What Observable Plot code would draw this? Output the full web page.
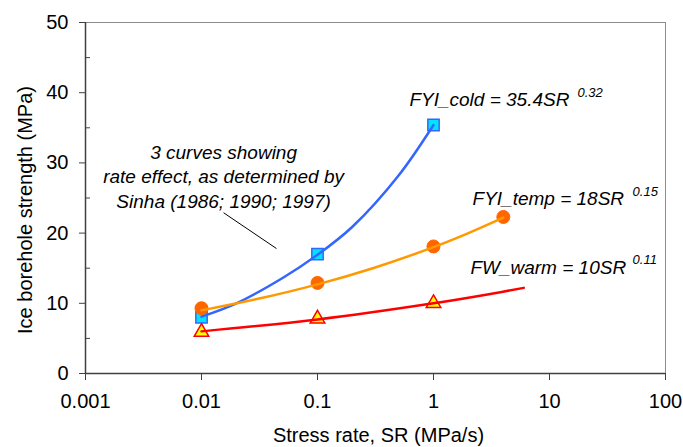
<!DOCTYPE html>
<html><head><meta charset="utf-8">
<script src="https://cdn.jsdelivr.net/npm/d3@7"></script>
<script src="https://cdn.jsdelivr.net/npm/@observablehq/plot@0.6"></script>
<style>body{margin:0;background:#fff;} svg{display:block;}</style>
</head><body><div id="chart"></div>
<script>
// ticks
const xTicks = [0.001, 0.01, 0.1, 1, 10, 100];
const xTickLabels = ["0.001", "0.01", "0.1", "1", "10", "100"];
const yTicks = [0, 10, 20, 30, 40, 50];
const yMinorTicks = [5, 15, 25, 35, 45];

// measured points (markers)
const coldSR = [0.01, 0.1, 1];
const coldStrength = [8.0, 17.0, 35.4];
const tempSR = [0.01, 0.1, 1, 4];
const tempStrength = [9.3, 12.9, 18.1, 22.3];
const warmSR = [0.01, 0.1, 1];
const warmStrength = [5.9, 7.8, 10.0];

// rate-effect curves
const coldCurveSR = [0.01, 0.02, 0.05, 0.1, 0.2, 0.5, 1];
const coldCurveStrength = [8.1, 10.0, 13.6, 16.9, 20.9, 28.2, 35.4];
const tempCurveSR = [0.01, 0.03, 0.1, 0.3, 1, 2, 4];
const tempCurveStrength = [9.0, 10.6, 12.7, 15.0, 18.0, 20.0, 22.2];
const warmCurveSR = [0.01, 0.1, 1, 3, 6];
const warmCurveStrength = [6.0, 7.7, 10.0, 11.3, 12.2];

// equation labels
const eqLabels = ["FYI_cold = 35.4SR", "FYI_temp = 18SR", "FW_warm = 10SR"];
const eqSR = [0.62, 2.17, 2.08];
const eqStrength = [39.0, 24.9, 15.1];
const expLabels = ["0.32", "0.15", "0.11"];
const expSR = [17.4, 52, 52];
const expStrength = [40.0, 25.9, 16.2];

// note
const noteLines = ["3 curves showing", "rate effect, as determined by", "Sinha (1986; 1990; 1997)"];
const noteSR = [0.0155];
const noteStrength = [28.2];
const pointerSR = [0.0155, 0.0443];
const pointerStrength = [22.9, 17.8];

const xTitle = "Stress rate, SR (MPa/s)";
const yTitle = "Ice borehole strength (MPa)";

const zip = (xs, ys) => xs.map((x, i) => ({x, y: ys[i]}));
const cold = zip(coldSR, coldStrength);
const temp = zip(tempSR, tempStrength);
const warm = zip(warmSR, warmStrength);
const coldCurve = zip(coldCurveSR, coldCurveStrength);
const tempCurve = zip(tempCurveSR, tempCurveStrength);
const warmCurve = zip(warmCurveSR, warmCurveStrength);
const eqs = eqLabels.map((t, i) => ({t, x: eqSR[i], y: eqStrength[i]}));
const exps = expLabels.map((t, i) => ({t, x: expSR[i], y: expStrength[i]}));

const font = "'Liberation Sans', Arial, sans-serif";
const W = 683, ML = 85, MR = 18;

const chart = Plot.plot({
  width: W, height: 447,
  marginLeft: ML, marginRight: MR, marginTop: 22, marginBottom: 74,
  x: {type: "log", domain: [xTicks[0], xTicks[xTicks.length - 1]]},
  y: {domain: [yTicks[0], yTicks[yTicks.length - 1]]},
  style: {fontFamily: font, fontSize: "20px", color: "#000", background: "#fff"},
  marks: [
    Plot.frame({stroke: "#8c8c8c", strokeWidth: 1}),
    Plot.ruleY([yTicks[0]], {stroke: "#404040", strokeWidth: 1.5}),
    Plot.ruleX([xTicks[0]], {stroke: "#404040", strokeWidth: 1.5}),
    Plot.axisX({ticks: xTicks, tickFormat: d => xTickLabels[xTicks.indexOf(d)], tickSize: 7, tickPadding: 13, label: null, fontSize: 20, stroke: "#404040", fill: "#000"}),
    Plot.axisY({ticks: yTicks, tickSize: 6, tickPadding: 11, label: null, fontSize: 20, stroke: "#404040", fill: "#000"}),
    Plot.tickY(yMinorTicks, {y: d => d, insetRight: W - ML - MR - 5, stroke: "#404040", strokeWidth: 1}),
    Plot.text([xTitle], {frameAnchor: "bottom", dy: 68, dx: 3, text: d => d, fontSize: 20, fill: "#000"}),
    Plot.text([yTitle], {frameAnchor: "left", textAnchor: "middle", rotate: -90, dx: -60, dy: 12, text: d => d, fontSize: 20, fill: "#000"}),
    // blue
    Plot.dot(cold, {x: "x", y: "y", symbol: "square", r: 6.4, fill: "#00E5FF", stroke: "#3366FF", strokeWidth: 1.5}),
    Plot.line(coldCurve, {x: "x", y: "y", stroke: "#3366FF", strokeWidth: 2.5, curve: "catmull-rom"}),
    // orange
    Plot.dot(temp, {x: "x", y: "y", symbol: "circle", r: 6.5, fill: "#FF6600", stroke: "#FF6600", strokeWidth: 1}),
    Plot.line(tempCurve, {x: "x", y: "y", stroke: "#FF9900", strokeWidth: 2.5, curve: "catmull-rom"}),
    // red
    Plot.dot(warm, {x: "x", y: "y", symbol: "triangle", r: 5.4, fill: "#FFFF00", stroke: "#FF0000", strokeWidth: 1.5}),
    Plot.line(warmCurve, {x: "x", y: "y", stroke: "#FF0000", strokeWidth: 2.5, curve: "catmull-rom"}),
    // labels
    Plot.text(eqs, {x: "x", y: "y", text: "t", textAnchor: "start", fontStyle: "italic", fontSize: 19, fill: "#000"}),
    Plot.text(exps, {x: "x", y: "y", text: "t", textAnchor: "start", fontStyle: "italic", fontSize: 13, fill: "#000"}),
    Plot.text([noteLines.join("\n")], {x: () => noteSR[0], y: () => noteStrength[0], text: d => d, fontStyle: "italic", fontSize: 19, lineHeight: 1.3, fill: "#000"}),
    Plot.link([0], {x1: () => pointerSR[0], y1: () => pointerStrength[0], x2: () => pointerSR[1], y2: () => pointerStrength[1], stroke: "#000", strokeWidth: 1})
  ]
});
document.getElementById("chart").appendChild(chart);
</script>
</body></html>
